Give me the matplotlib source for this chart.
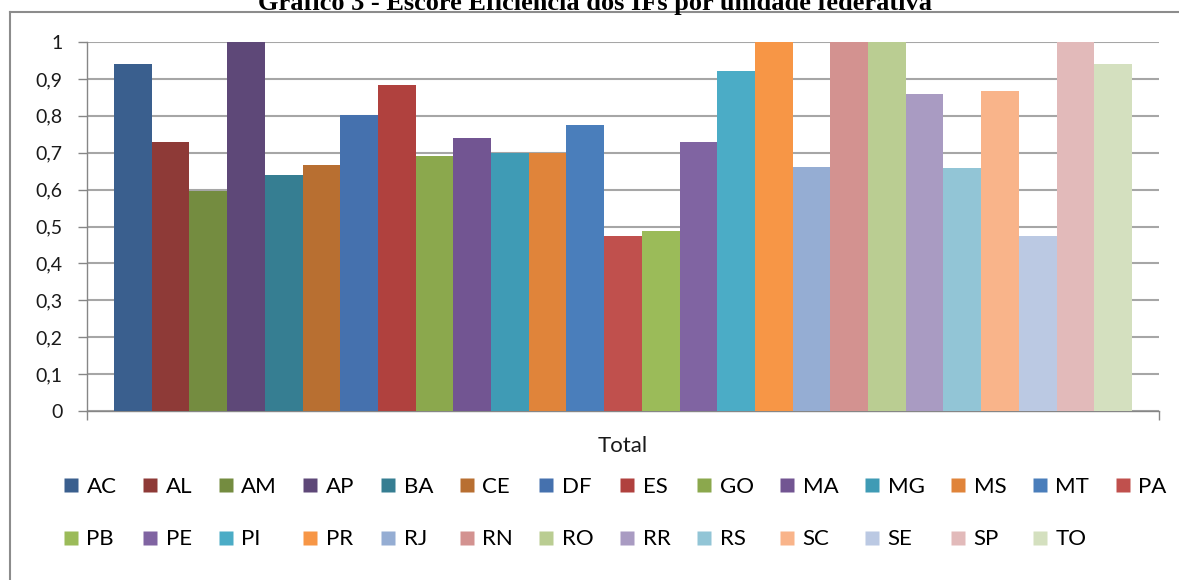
import matplotlib
matplotlib.use("Agg")
import matplotlib.pyplot as plt
from matplotlib.lines import Line2D
import numpy as np

# Escore de eficiencia por UF
states = ["AC", "AL", "AM", "AP", "BA", "CE", "DF", "ES", "GO", "MA", "MG", "MS", "MT", "PA",
          "PB", "PE", "PI", "PR", "RJ", "RN", "RO", "RR", "RS", "SC", "SE", "SP", "TO"]
scores = [0.94, 0.73, 0.595, 1.0, 0.64, 0.667, 0.802, 0.883, 0.691, 0.74, 0.70, 0.70, 0.775, 0.475,
          0.487, 0.73, 0.921, 1.0, 0.66, 1.0, 1.0, 0.858, 0.658, 0.866, 0.475, 1.0, 0.94]
colors = ["#3A5F8E", "#8E3A37", "#748C40", "#5E4878", "#367E92", "#B86F31",
          "#4571AE", "#B0413E", "#8BA84D", "#725592", "#3F9BB5", "#E0843A",
          "#4A7EBB", "#C0504D", "#9BBB59", "#8064A2", "#4BACC6", "#F79646",
          "#95ADD3", "#D39290", "#BACD92", "#A99BC2", "#92C5D6", "#F9B48A",
          "#BBC9E3", "#E2BABA", "#D4E0BF"]
category = "Total"
yticks = np.arange(0, 1.01, 0.1)

plt.rcParams["font.family"] = ["Lato", "DejaVu Sans"]
GRID = "#A6A6A6"
AXIS = "#868686"

fig = plt.figure(figsize=(11.79, 5.80), dpi=100)
W, H = 1179, 580
ax = fig.add_axes([87 / W, 1 - 411 / H, (1159 - 87) / W, (411 - 42) / H])

x = np.arange(len(states))
ax.bar(x, scores, width=1.0, color=colors, edgecolor="none", zorder=3)

margin = 0.716
ax.set_xlim(-0.5 - margin, len(states) - 0.5 + margin)
ax.set_ylim(0, 1)

ax.set_yticks(yticks)
ax.set_yticklabels([f"{v:.1f}".replace(".", ",").replace("0,0", "0").replace("1,0", "1") for v in yticks])
ax.tick_params(axis="y", length=6.5, width=1, color=AXIS, pad=11, labelsize=14, labelcolor="#1A1A1A")
ax.yaxis.grid(True, color=GRID, linewidth=1.5, zorder=0)

ax.set_xticks([(len(states) - 1) / 2])
ax.set_xticklabels([category])
ax.tick_params(axis="x", length=0, pad=18, labelsize=16, labelcolor="#1A1A1A")
ax.set_xticks(ax.get_xlim(), minor=True)
ax.tick_params(axis="x", which="minor", length=6.5, width=1, color=AXIS)

for side in ["top", "right"]:
    ax.spines[side].set_visible(False)
for side in ["left", "bottom"]:
    ax.spines[side].set_color(AXIS)
    ax.spines[side].set_linewidth(1)

# legenda em duas linhas, preenchida por linha
ncol = 14
order = []
for c in range(ncol):
    order.append(c)
    if c + ncol < len(states):
        order.append(c + ncol)
handles = [Line2D([], [], marker="s", linestyle="none", markersize=10,
                  markerfacecolor=colors[i], markeredgecolor="none") for i in order]
labels = [states[i] for i in order]
fig.legend(handles, labels, ncol=ncol, loc="upper left", bbox_to_anchor=(52 / W, 1 - 466 / H),
           frameon=False, fontsize=16, handlelength=0.7, handletextpad=0.35,
           columnspacing=1.16, labelspacing=1.45, borderpad=0)

# moldura do grafico
frame = dict(color="#8C8C8C", linewidth=1.5, transform=fig.transFigure)
fig.add_artist(Line2D([10 / W, 1], [1 - 12 / H, 1 - 12 / H], **frame))
fig.add_artist(Line2D([10 / W, 10 / W], [1 - 12 / H, 0], **frame))

fig.text(595 / W, 1 - 10 / H, "Gráfico 3 - Escore Eficiência dos IFs por unidade federativa",
         ha="center", va="baseline", fontsize=19, fontweight="bold",
         family=["Liberation Serif", "DejaVu Serif"])

fig.savefig("out.png", dpi=100)
